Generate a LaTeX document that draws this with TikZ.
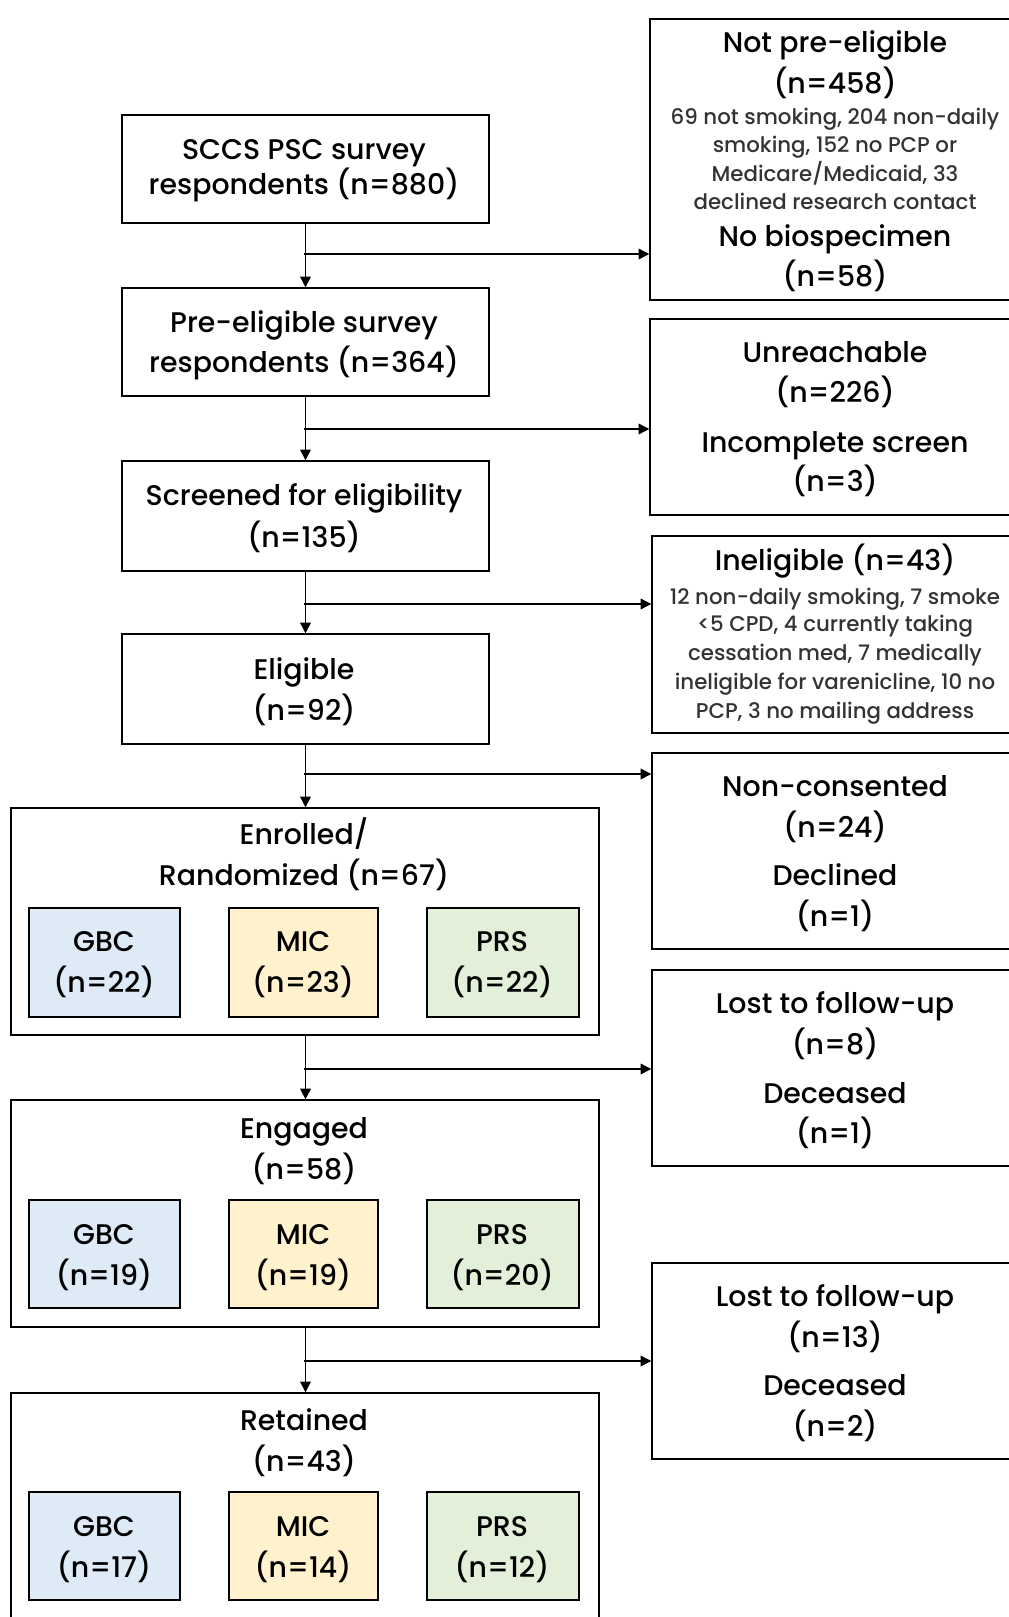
\documentclass[tikz,border=0pt]{standalone}
\usepackage{fontspec}
\setmainfont{Poppins}[UprightFont=* Medium]
\usetikzlibrary{arrows.meta,fit,calc}
\definecolor{gbcfill}{HTML}{DEEAF6}
\definecolor{micfill}{HTML}{FFF2CC}
\definecolor{prsfill}{HTML}{E2EFD9}
\begin{document}
\begin{tikzpicture}[x=0.75pt,y=-0.75pt,
  box/.style={draw=black,line width=1.1pt,inner sep=0pt},
  gbc/.style={box,fill=gbcfill},
  mic/.style={box,fill=micfill},
  prs/.style={box,fill=prsfill},
  big/.style={font=\fontsize{21.3}{26}\selectfont,text height=0.7em,text depth=0pt,inner sep=0pt,yshift=-4.5pt},
  small/.style={font=\fontsize{16}{19}\selectfont,text height=0.7em,text depth=0pt,inner sep=0pt,text=black!80,yshift=-2.3pt},
  arr/.style={line width=1pt,-{Triangle[length=8pt,width=8pt]}}]
\useasboundingbox (0,0) rectangle (1009,1617);
\fill[white] (0,0) rectangle (1009,1617);
\clip (0,0) rectangle (1009,1617);

% left column boxes
\node[box,fit={(122,115)(489,223)}] (b1) {};
\node[box,fit={(122,288)(489,396)}] (b2) {};
\node[box,fit={(122,461)(489,571)}] (b3) {};
\node[box,fit={(122,634)(489,744)}] (b4) {};
\node[box,fit={(11,808)(599,1035)}] (b5) {};
\node[box,fit={(11,1100)(599,1327)}] (b6) {};
\node[box,fit={(11,1393)(599,1650)}] (b7) {};

% sub boxes
\node[gbc,fit={(29,908)(180,1017)}] (g1) {};
\node[mic,fit={(229,908)(378,1017)}] (m1) {};
\node[prs,fit={(427,908)(579,1017)}] (p1) {};
\node[gbc,fit={(29,1200)(180,1308)}] (g2) {};
\node[mic,fit={(229,1200)(378,1308)}] (m2) {};
\node[prs,fit={(427,1200)(579,1308)}] (p2) {};
\node[gbc,fit={(29,1492)(180,1600)}] (g3) {};
\node[mic,fit={(229,1492)(378,1600)}] (m3) {};
\node[prs,fit={(427,1492)(579,1600)}] (p3) {};

% right column boxes
\node[box,fit={(650,19)(1020,300)}] (r1) {};
\node[box,fit={(650,319)(1020,515)}] (r2) {};
\node[box,fit={(652,536)(1020,733)}] (r3) {};
\node[box,fit={(652,753)(1020,949)}] (r4) {};
\node[box,fit={(652,970)(1020,1166)}] (r5) {};
\node[box,fit={(652,1263)(1020,1459)}] (r6) {};

% left texts
\node[big] (t1a) at (304,148.6) {SCCS PSC survey};
\node[big] (t1b) at (304,183.6) {respondents (n=880)};
\node[big] (t2a) at (304,321.9) {Pre-eligible survey};
\node[big] (t2b) at (304,362.1) {respondents (n=364)};
\node[big] (t3a) at (304,495.2) {Screened for eligibility};
\node[big] (t3b) at (304,536.5) {(n=135)};
\node[big] (t4a) at (304,668.5) {Eligible};
\node[big] (t4b) at (304,709.8) {(n=92)};
\node[big] (t5a) at (304,833.6) {Enrolled/};
\node[big] (t5b) at (304,874.9) {Randomized (n=67)};
\node[big] (t6a) at (304,1127.6) {Engaged};
\node[big] (t6b) at (304,1168.9) {(n=58)};
\node[big] (t7a) at (304,1419.6) {Retained};
\node[big] (t7b) at (304,1460.9) {(n=43)};

% sub texts
\node[big] (g1a) at (104,940.9) {GBC};
\node[big] (g1b) at (104,982.2) {(n=22)};
\node[big] (m1a) at (303,940.9) {MIC};
\node[big] (m1b) at (303,982.2) {(n=23)};
\node[big] (p1a) at (502,940.9) {PRS};
\node[big] (p1b) at (502,982.2) {(n=22)};
\node[big] (g2a) at (104,1233.9) {GBC};
\node[big] (g2b) at (104,1275.2) {(n=19)};
\node[big] (m2a) at (303,1233.9) {MIC};
\node[big] (m2b) at (303,1275.2) {(n=19)};
\node[big] (p2a) at (502,1233.9) {PRS};
\node[big] (p2b) at (502,1275.2) {(n=20)};
\node[big] (g3a) at (104,1525.9) {GBC};
\node[big] (g3b) at (104,1567.2) {(n=17)};
\node[big] (m3a) at (303,1525.9) {MIC};
\node[big] (m3b) at (303,1567.2) {(n=14)};
\node[big] (p3a) at (502,1525.9) {PRS};
\node[big] (p3b) at (502,1567.2) {(n=12)};

% right texts
\node[big] (r1a) at (835,42.3) {Not pre-eligible};
\node[big] (r1b) at (835,82.5) {(n=458)};
\node[small] (r1c) at (835,116.6) {69 not smoking, 204 non-daily};
\node[small] (r1d) at (835,144.4) {smoking, 152 no PCP or};
\node[small] (r1e) at (835,173.3) {Medicare/Medicaid, 33};
\node[small] (r1f) at (835,202.2) {declined research contact};
\node[big] (r1g) at (835,236.3) {No biospecimen};
\node[big] (r1h) at (835,275.5) {(n=58)};

\node[big] (r2a) at (835,351.8) {Unreachable};
\node[big] (r2b) at (835,392) {(n=226)};
\node[big] (r2c) at (835,441.6) {Incomplete screen};
\node[big] (r2d) at (835,480.8) {(n=3)};

\node[big] (r3a) at (835,560.2) {Ineligible (n=43)};
\node[small] (r3b) at (835,596.3) {12 non-daily smoking, 7 smoke};
\node[small] (r3c) at (835,624.2) {<5 CPD, 4 currently taking};
\node[small] (r3d) at (835,653.1) {cessation med, 7 medically};
\node[small] (r3e) at (835,682) {ineligible for varenicline, 10 no};
\node[small] (r3f) at (835,710.8) {PCP, 3 no mailing address};

\node[big] (r4a) at (835,786.2) {Non-consented};
\node[big] (r4b) at (835,826.4) {(n=24)};
\node[big] (r4c) at (835,874.9) {Declined};
\node[big] (r4d) at (835,916.1) {(n=1)};

\node[big] (r5a) at (835,1002.8) {Lost to follow-up};
\node[big] (r5b) at (835,1044.1) {(n=8)};
\node[big] (r5c) at (835,1092.6) {Deceased};
\node[big] (r5d) at (835,1132.8) {(n=1)};

\node[big] (r6a) at (835,1295.8) {Lost to follow-up};
\node[big] (r6b) at (835,1337.1) {(n=13)};
\node[big] (r6c) at (835,1384.5) {Deceased};
\node[big] (r6d) at (835,1425.8) {(n=2)};

% connectors
\coordinate (c1) at (304,254);
\coordinate (c2) at (304,429);
\coordinate (c3) at (304,604);
\coordinate (c4) at (304,774);
\coordinate (c5) at (304,1069);
\coordinate (c6) at (304,1361);

\draw[arr] (b1.south) -- (b2.north);
\draw[arr] (b2.south) -- (b3.north);
\draw[arr] (b3.south) -- (b4.north);
\draw[arr] (b4.south) -- (b4.south |- b5.north);
\draw[arr] (b4.south |- b5.south) -- (b4.south |- b6.north);
\draw[arr] (b4.south |- b6.south) -- (b4.south |- b7.north);

\draw[arr] (c1) -- (c1 -| r1.west);
\draw[arr] (c2) -- (c2 -| r2.west);
\draw[arr] (c3) -- (c3 -| r3.west);
\draw[arr] (c4) -- (c4 -| r4.west);
\draw[arr] (c5) -- (c5 -| r5.west);
\draw[arr] (c6) -- (c6 -| r6.west);
\end{tikzpicture}
\end{document}
